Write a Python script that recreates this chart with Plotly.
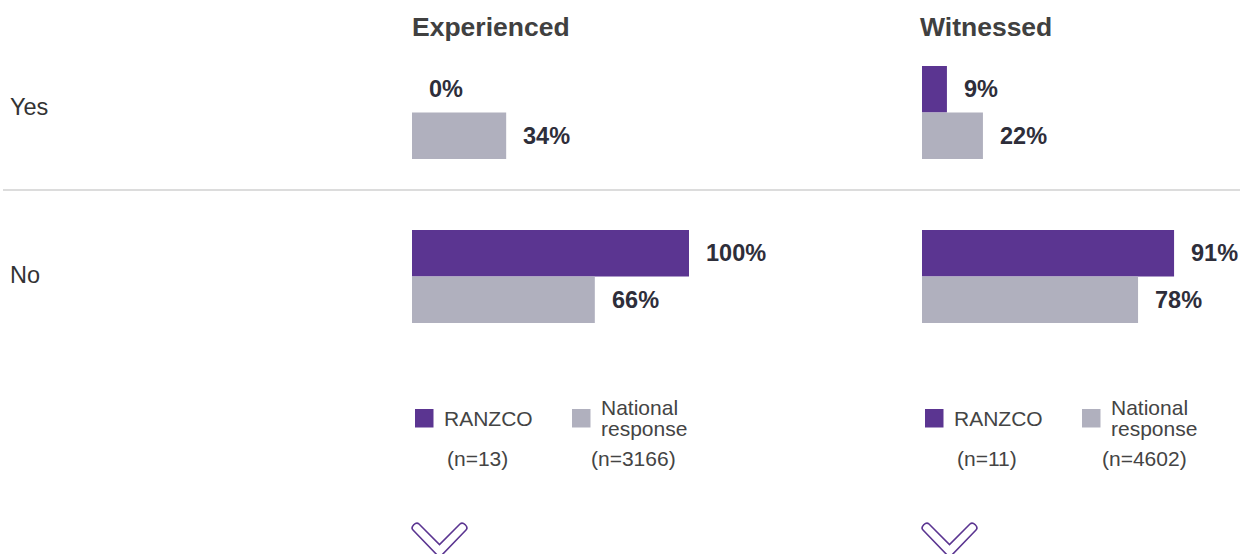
import plotly.graph_objects as go

W, H = 1240, 554

categories = ["Yes", "No"]
panels = ["Experienced", "Witnessed"]
ranzco_exp = [0, 100]
national_exp = [34, 66]
ranzco_wit = [9, 91]
national_wit = [22, 78]
series_names = ["RANZCO", "National response"]
n_exp = ["(n=13)", "(n=3166)"]
n_wit = ["(n=11)", "(n=4602)"]

PURPLE = "#5B3591"
GRAY = "#B0B0BE"
LABEL_COL = "#2E2E3A"
TEXT_COL = "#404040"
FONT = "Liberation Sans, Arial, sans-serif"


def px_x(x):
    return x / W


def px_y(y):
    return 1 - y / H


fig = go.Figure()

data = [(ranzco_exp, national_exp, "x", "y"), (ranzco_wit, national_wit, "x2", "y2")]
for r_vals, n_vals, xa, ya in data:
    fig.add_trace(go.Bar(y=categories, x=r_vals, orientation="h", marker_color=PURPLE,
                         marker_line_width=0, xaxis=xa, yaxis=ya, showlegend=False,
                         hoverinfo="skip"))
    fig.add_trace(go.Bar(y=categories, x=n_vals, orientation="h", marker_color=GRAY,
                         marker_line_width=0, xaxis=xa, yaxis=ya, showlegend=False,
                         hoverinfo="skip"))

ytop, ybot = 30.5, 358.5
ydom = [px_y(ybot), px_y(ytop)]
x1dom = [px_x(412), px_x(412 + 277)]
x2dom = [px_x(922), px_x(922 + 277)]

axis_common = dict(showgrid=False, zeroline=False, showticklabels=False, showline=False,
                   ticks="", fixedrange=True)
fig.update_layout(
    width=W, height=H,
    margin=dict(l=0, r=0, t=0, b=0),
    paper_bgcolor="white", plot_bgcolor="rgba(0,0,0,0)",
    barmode="group", bargap=0.433, bargroupgap=0,
    font=dict(family=FONT, color=TEXT_COL),
    xaxis=dict(domain=x1dom, range=[0, 100], anchor="y", **axis_common),
    xaxis2=dict(domain=x2dom, range=[0, 100], anchor="y2", **axis_common),
    yaxis=dict(domain=ydom, range=[1.5, -0.5], type="category", anchor="x", **axis_common),
    yaxis2=dict(domain=ydom, range=[1.5, -0.5], type="category", anchor="x2", **axis_common),
)

annotations = []
# value labels
half = 23.25
for (r_vals, n_vals, xa, ya) in data:
    for cat, rv, nv in zip(categories, r_vals, n_vals):
        for val, shift in ((rv, half), (nv, -half)):
            annotations.append(dict(x=val, y=cat, xref=xa, yref=ya, text=f"<b>{val}%</b>",
                                    showarrow=False, xanchor="left", yanchor="middle",
                                    xshift=15, yshift=shift,
                                    font=dict(size=23.5, color=LABEL_COL, family=FONT)))

# category labels
for cat, ys in zip(categories, (5.5, 1.5)):
    annotations.append(dict(x=px_x(8), y=cat, xref="paper", yref="y", text=cat,
                            showarrow=False, xanchor="left", yanchor="middle", yshift=ys,
                            font=dict(size=23.5, color="#333333", family=FONT)))

# panel titles
for title, x0 in zip(panels, (410, 918)):
    annotations.append(dict(x=px_x(x0), y=px_y(27), xref="paper", yref="paper",
                            text=f"<b>{title}</b>", showarrow=False, xanchor="left",
                            yanchor="middle",
                            font=dict(size=26.5, color="#404040", family=FONT)))

shapes = []
# separator line
shapes.append(dict(type="line", xref="paper", yref="paper", x0=px_x(3), x1=1,
                   y0=px_y(190), y1=px_y(190), line=dict(color="#DCDCDC", width=2)))

# legends
legend_specs = [(415, 572, n_exp), (925, 1082, n_wit)]
for sx1, sx2, ns in legend_specs:
    for sx, col, name, nlabel, ncx in ((sx1, PURPLE, series_names[0], ns[0], sx1 + 62),
                                       (sx2, GRAY, series_names[1], ns[1], sx2 + 62)):
        shapes.append(dict(type="rect", xref="paper", yref="paper",
                           x0=px_x(sx), x1=px_x(sx + 18.5), y0=px_y(427.5), y1=px_y(409),
                           fillcolor=col, line=dict(width=0)))
        words = name.split(" ")
        if len(words) == 1:
            line_pos = [(words[0], 418)]
        else:
            line_pos = [(words[0], 407), (" ".join(words[1:]), 428)]
        for txt, yy in line_pos:
            annotations.append(dict(x=px_x(sx + 27), y=px_y(yy), xref="paper", yref="paper",
                                    text=txt, showarrow=False, xanchor="left",
                                    yanchor="middle", align="left",
                                    font=dict(size=21, color="#444444", family=FONT)))
        annotations.append(dict(x=px_x(ncx), y=px_y(458), xref="paper", yref="paper",
                                text=nlabel, showarrow=False, xanchor="center",
                                yanchor="middle",
                                font=dict(size=21, color="#444444", family=FONT)))

# chevrons
for cx0 in (412, 922):
    def P(x, y):
        return f"{px_x(cx0 + x)},{px_y(y + 2)}"
    path = (f"M {P(1, 528)} L {P(27.5, 555.5)} L {P(54, 528)} "
            f"C {P(57, 525)} {P(51, 519)} {P(48, 522)} "
            f"L {P(27.5, 542.5)} L {P(7, 522)} "
            f"C {P(4, 519)} {P(-2, 525)} {P(1, 528)} Z")
    shapes.append(dict(type="path", xref="paper", yref="paper", path=path,
                       line=dict(color=PURPLE, width=1.6), fillcolor="rgba(0,0,0,0)"))

fig.update_layout(annotations=annotations, shapes=shapes)
fig.write_html("out.html",
               config={"displayModeBar": False, "staticPlot": True},
               post_script="document.body.style.margin='0';"
                           "document.body.style.overflow='hidden';")
